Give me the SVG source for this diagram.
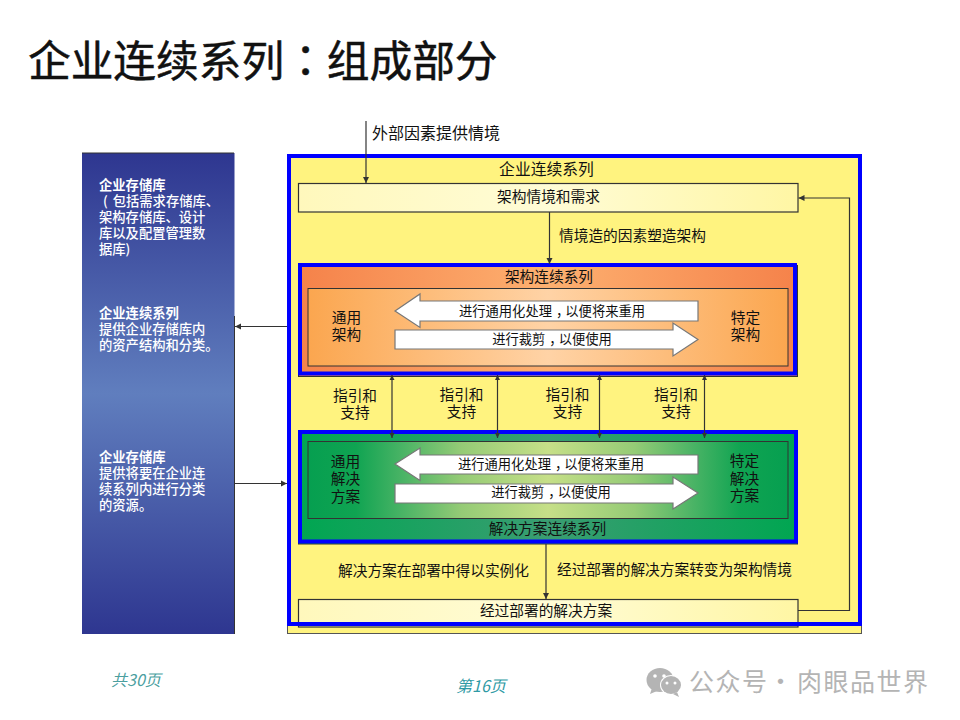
<svg xmlns="http://www.w3.org/2000/svg" width="960" height="720" viewBox="0 0 960 720">
<style>
text{font-family:"Noto Sans CJK SC","Noto Sans",sans-serif;fill:#111}
.l{font-size:14.7px;text-anchor:middle}
.a{font-size:13.3px;text-anchor:middle}
.s{font-size:13.3px;fill:#fff;font-weight:500}
.b{font-weight:700}
.c{fill:none;stroke:#333;stroke-width:1.2}
.f{fill:none;stroke:#00f;stroke-width:4}
.w{fill:#fff;stroke:#777;stroke-width:1.2}
.e{marker-end:url(#h)}
.d{marker-start:url(#h2);marker-end:url(#h3)}
</style>
<defs>
<marker id="h" markerUnits="userSpaceOnUse" markerWidth="8" markerHeight="8" refX="7" refY="4" orient="auto"><path d="M1 1L7 4L1 7z" fill="#333"/></marker>
<marker id="h2" markerUnits="userSpaceOnUse" markerWidth="8" markerHeight="8" refX="1" refY="4" orient="auto"><path d="M6 1.500L1 4L6 6.500z" fill="#333"/></marker>
<marker id="h3" markerUnits="userSpaceOnUse" markerWidth="8" markerHeight="8" refX="7" refY="4" orient="auto"><path d="M2 1.500L7 4L2 6.500z" fill="#333"/></marker>
<linearGradient id="gLeft" x1="0" y1="0" x2="0" y2="1"><stop offset="0" stop-color="#2E3690"/><stop offset=".5" stop-color="#607EBE"/><stop offset="1" stop-color="#2E3690"/></linearGradient>
<linearGradient id="gCream" x1="0" y1="0" x2="1" y2="0"><stop offset="0" stop-color="#FFF8BC"/><stop offset=".5" stop-color="#FFFCD6"/><stop offset="1" stop-color="#FFF6A4"/></linearGradient>
<linearGradient id="gOrO" x1="0" y1="0" x2="1" y2="0"><stop offset="0" stop-color="#F5824A"/><stop offset=".5" stop-color="#FDB070"/><stop offset="1" stop-color="#F5824A"/></linearGradient>
<linearGradient id="gOrI" x1="0" y1="0" x2="1" y2="0"><stop offset="0" stop-color="#FBA64F"/><stop offset=".5" stop-color="#FFD3A6"/><stop offset="1" stop-color="#FBA64F"/></linearGradient>
<linearGradient id="gGrO" x1="0" y1="0" x2="1" y2="0"><stop offset="0" stop-color="#00A651"/><stop offset=".5" stop-color="#3A9D72"/><stop offset="1" stop-color="#00A651"/></linearGradient>
<linearGradient id="gGrI" x1="0" y1="0" x2="1" y2="0"><stop offset="0" stop-color="#069F50"/><stop offset=".1" stop-color="#10A452"/><stop offset=".2" stop-color="#4CB466"/><stop offset=".32" stop-color="#95CB76"/><stop offset=".5" stop-color="#C6DF88"/><stop offset=".68" stop-color="#95CB76"/><stop offset=".8" stop-color="#4CB466"/><stop offset=".9" stop-color="#10A452"/><stop offset="1" stop-color="#069F50"/></linearGradient>
</defs>
<rect width="960" height="720" fill="#fff"/>
<text id="title" x="28" y="77" style="font-size:42.7px;stroke:#111;stroke-width:.5px">企业连续系列<tspan style="font-family:'Noto Sans CJK TC',sans-serif">：</tspan>组成部分</text>

<g id="repo">
<rect x="82" y="153" width="152.500" height="481" fill="url(#gLeft)"/>
<path d="M82 153H234" stroke="#333" stroke-width="1" fill="none"/>
<path d="M234.500 316V634" stroke="#333" stroke-width="1" fill="none"/>
<text class="s" x="99" y="190"><tspan class="b">企业存储库</tspan><tspan x="103" y="206">( <tspan dx="2">包括需求存储库、</tspan></tspan><tspan x="99" y="222">架构存储库、设计</tspan><tspan x="99" y="238">库以及配置管理数</tspan><tspan x="99" y="254">据库)</tspan></text>
<text class="s" x="99" y="318"><tspan class="b">企业连续系列</tspan><tspan x="99" y="334">提供企业存储库内</tspan><tspan x="99" y="350">的资产结构和分类。</tspan></text>
<text class="s" x="99" y="462"><tspan class="b">企业存储库</tspan><tspan x="99" y="478">提供将要在企业连</tspan><tspan x="99" y="494">续系列内进行分类</tspan><tspan x="99" y="510">的资源。</tspan></text>
</g>

<g id="enterprise">
<rect x="287.500" y="154.500" width="574" height="479" fill="#FFF37F" stroke="#555" stroke-width="1"/>
<text class="l" x="546.500" y="175" style="font-size:15.800px">企业连续系列</text>
</g>

<g id="context">
<rect x="298.500" y="183.500" width="499.500" height="28.500" fill="url(#gCream)" stroke="#333" stroke-width="1.200"/>
<text class="l" x="548.500" y="202">架构情境和需求</text>
</g>

<g id="architecture">
<rect x="298.500" y="265.500" width="499" height="111" fill="url(#gOrO)" stroke="#333" stroke-width="1"/>
<rect x="300" y="265" width="495" height="108.500" class="f"/>
<rect x="308" y="288.500" width="480" height="77.500" fill="url(#gOrI)" stroke="#333" stroke-width="1"/>
<text class="l" x="549" y="282">架构连续系列</text>
<text class="l" x="346.500" y="323">通用<tspan x="346.500" y="340">架构</tspan></text>
<text class="l" x="745.500" y="323">特定<tspan x="745.500" y="340">架构</tspan></text>
<path class="w" d="M395 311L420 294V301H698V321H420V327.500z"/>
<path class="w" d="M395 330H673V323L698 339.500L673 356V349H395z"/>
<text class="a" x="552" y="316">进行通用化处理<tspan dx="4">，</tspan><tspan dx="-4">以便将来重用</tspan></text>
<text class="a" x="552" y="344">进行裁剪<tspan dx="4">，</tspan><tspan dx="-4">以便使用</tspan></text>
</g>

<g id="solution">
<rect x="298.500" y="430.500" width="499" height="113.500" fill="url(#gGrO)" stroke="#333" stroke-width="1"/>
<rect x="300" y="432" width="496" height="109.500" class="f"/>
<rect x="308" y="441.500" width="480" height="77" fill="url(#gGrI)" stroke="#333" stroke-width="1"/>
<text class="l" x="345.500" y="467">通用<tspan x="345.500" y="484">解决</tspan><tspan x="345.500" y="502">方案</tspan></text>
<text class="l" x="744.500" y="466">特定<tspan x="744.500" y="484">解决</tspan><tspan x="744.500" y="501">方案</tspan></text>
<path class="w" d="M395 464L420 448V455H698V474H420V480.500z"/>
<path class="w" d="M395 484H673V477L698 493L673 509V503H395z"/>
<text class="a" x="551" y="469">进行通用化处理<tspan dx="4">，</tspan><tspan dx="-4">以便将来重用</tspan></text>
<text class="a" x="551" y="497">进行裁剪<tspan dx="4">，</tspan><tspan dx="-4">以便使用</tspan></text>
<text class="l" x="547.500" y="534">解决方案连续系列</text>
</g>

<g id="deployed">
<rect x="298.500" y="599.500" width="499.500" height="27.500" fill="url(#gCream)" stroke="#333" stroke-width="1.200"/>
<text class="l" x="546" y="616">经过部署的解决方案</text>
</g>

<g id="frame"><rect x="289" y="156" width="571" height="468" class="f"/></g>

<g id="connectors">
<path class="c e" d="M366 121V183"/>
<path class="c e" d="M549.500 212V264"/>
<path class="c e" d="M798 610.500H849.500V198H798.500"/>
<path class="c d" d="M392 375V438"/>
<path class="c d" d="M497.500 375V438"/>
<path class="c d" d="M599.500 375V438"/>
<path class="c d" d="M704.500 375V438"/>
<path class="c e" d="M546 544V599"/>
<path class="c e" d="M287 326.500H235"/>
<path class="c e" d="M235 483.500H287"/>
</g>

<g id="labels">
<text x="372" y="139" style="font-size:16px">外部因素提供情境</text>
<text x="559" y="241" style="font-size:14.700px">情境造的因素塑造架构</text>
<text class="l" x="355" y="401">指引和<tspan x="355" y="418">支持</tspan></text>
<text class="l" x="461.500" y="400">指引和<tspan x="461.500" y="417">支持</tspan></text>
<text class="l" x="567.500" y="400">指引和<tspan x="567.500" y="417">支持</tspan></text>
<text class="l" x="676" y="400">指引和<tspan x="676" y="417">支持</tspan></text>
<text class="l" x="433.500" y="576">解决方案在部署中得以实例化</text>
<text class="l" x="674.500" y="575">经过部署的解决方案转变为架构情境</text>
</g>

<g id="footer">
<text x="111" y="686" font-style="italic" style="font-size:16px;fill:#4C9F9F">共30页</text>
<text x="456" y="692" font-style="italic" style="font-size:16px;fill:#2F9AA5">第16页</text>
</g>

<g id="watermark" fill="#B4B4B4">
<ellipse cx="660" cy="680" rx="13.500" ry="12"/>
<path d="M652 688l-2 6 7-3z"/>
<ellipse cx="671" cy="685" rx="11" ry="10" fill="#fff"/>
<ellipse cx="671" cy="685" rx="10" ry="9"/>
<path d="M677 692l2 5-6-3z"/>
<circle cx="655" cy="676" r="1.800" fill="#fff"/><circle cx="664" cy="676" r="1.800" fill="#fff"/>
<circle cx="667" cy="683" r="1.500" fill="#fff"/><circle cx="675" cy="683" r="1.500" fill="#fff"/>
<text x="689" y="691" style="font-size:25px;letter-spacing:1.500px;fill:#B4B4B4">公众号<tspan x="768">·</tspan><tspan x="797">肉眼品世界</tspan></text>
</g>
</svg>
